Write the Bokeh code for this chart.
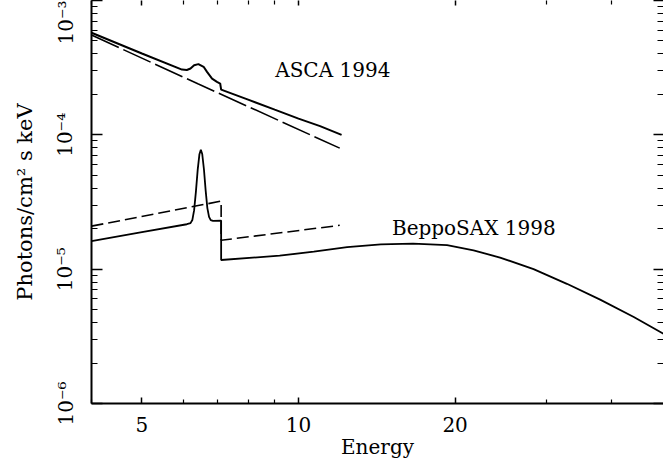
from bokeh.plotting import figure
from bokeh.models import Range1d, LogAxis, FixedTicker, CustomJSTickFormatter
from bokeh.core.properties import value
from bokeh.embed import file_html
from bokeh.resources import INLINE

# ---- data (Energy in keV, flux in Photons/cm^2 s keV) ----
asca_e = [4.0, 5.0, 5.97, 6.1, 6.2, 6.3, 6.42, 6.57, 6.67, 6.82, 6.97, 7.07, 7.1,
          8.0, 9.0, 10.0, 11.0, 12.1]
asca_f = [5.75e-4, 4.03e-4, 3.06e-4, 3.04e-4, 3.12e-4, 3.30e-4, 3.36e-4, 3.21e-4,
          2.94e-4, 2.62e-4, 2.48e-4, 2.41e-4, 2.17e-4, 1.83e-4, 1.54e-4, 1.32e-4,
          1.16e-4, 1.00e-4]

asca_cont_e = [4.0, 6.42, 12.0]
asca_cont_f = [5.53e-4, 2.39e-4, 7.96e-5]

sax_e = [4.0, 5.0, 6.1, 6.2, 6.25, 6.3, 6.35, 6.4, 6.45, 6.49, 6.53, 6.58, 6.63,
         6.68, 6.73, 6.78, 6.85, 7.1, 7.1, 9.2, 10.7, 12.4, 14.4, 16.6, 19.3, 21.7,
         24.4, 28.3, 32.8, 38.0, 44.1, 50.3]
sax_f = [1.62e-5, 1.89e-5, 2.16e-5, 2.20e-5, 2.32e-5, 2.75e-5, 3.78e-5, 5.48e-5,
         7.18e-5, 7.74e-5, 7.20e-5, 5.52e-5, 3.84e-5, 2.85e-5, 2.45e-5, 2.32e-5,
         2.29e-5, 2.30e-5, 1.17e-5, 1.26e-5, 1.35e-5, 1.46e-5, 1.53e-5, 1.55e-5,
         1.51e-5, 1.38e-5, 1.22e-5, 1.00e-5, 7.78e-6, 5.93e-6, 4.40e-6, 3.30e-6]

sax_cont_e = [4.0, 7.1, 7.1, 12.0]
sax_cont_f = [2.09e-5, 3.21e-5, 1.64e-5, 2.12e-5]

x_major = [5, 10, 20]
x_minor = [4, 6, 7, 8, 9, 30, 40]
y_major = [1e-6, 1e-5, 1e-4, 1e-3]
y_minor = [2e-6, 3e-6, 4e-6, 5e-6, 6e-6, 7e-6, 8e-6, 9e-6,
           2e-5, 3e-5, 4e-5, 5e-5, 6e-5, 7e-5, 8e-5, 9e-5,
           2e-4, 3e-4, 4e-4, 5e-4, 6e-4, 7e-4, 8e-4, 9e-4]

FONT = "DejaVu Serif"

p = figure(width=663, height=462, x_axis_type="log", y_axis_type="log",
           x_range=Range1d(4.0, 50.3), y_range=Range1d(1e-6, 1e-3),
           output_backend="svg", toolbar_location=None,
           min_border_left=91, min_border_right=0, min_border_top=0,
           min_border_bottom=59)
p.outline_line_color = None
p.grid.visible = False
p.background_fill_color = "white"
p.border_fill_color = "white"

# curves
p.line(asca_e, asca_f, line_color="black", line_width=2)
p.line(asca_cont_e, asca_cont_f, line_color="black", line_width=1.6, line_dash="30 5")
p.line(sax_e, sax_f, line_color="black", line_width=1.8)
p.line(sax_cont_e, sax_cont_f, line_color="black", line_width=1.6, line_dash="12 5")

# labels on the curves
p.text(x=[9.02], y=[3.05e-4], text=["ASCA 1994"], text_font=value(FONT),
       text_font_size="20px", text_color="black", text_align="left",
       text_baseline="alphabetic")
p.text(x=[15.12], y=[2.02e-5], text=["BeppoSAX 1998"], text_font=value(FONT),
       text_font_size="20px", text_color="black", text_align="left",
       text_baseline="alphabetic")

sup_fmt = CustomJSTickFormatter(code="""
const e = Math.round(Math.log10(tick));
const sup = {"-":"\u207b","0":"\u2070","1":"\u00b9","2":"\u00b2","3":"\u00b3","4":"\u2074",
             "5":"\u2075","6":"\u2076","7":"\u2077","8":"\u2078","9":"\u2079"};
return "10" + String(e).split("").map(c => sup[c]).join("");
""")

# bottom axis
xa = p.xaxis[0]
xa.ticker = FixedTicker(ticks=x_major, minor_ticks=x_minor)
xa.formatter = CustomJSTickFormatter(code="return Math.round(tick).toString();")
xa.axis_label = "Energy"
xa.axis_label_text_font = FONT
xa.axis_label_text_font_style = "normal"
xa.axis_label_text_font_size = "20px"
xa.axis_label_text_color = "black"
xa.axis_label_standoff = 0
xa.major_label_text_font = FONT
xa.major_label_text_font_size = "20px"
xa.major_label_text_color = "black"
xa.major_label_standoff = 13
xa.major_tick_out = 0
xa.major_tick_in = 6
xa.minor_tick_out = 0
xa.minor_tick_in = 4
xa.axis_line_width = 2
xa.axis_line_color = "black"
xa.major_tick_line_width = 1.5
xa.minor_tick_line_width = 1.2

# left axis
ya = p.yaxis[0]
ya.ticker = FixedTicker(ticks=y_major, minor_ticks=y_minor)
ya.formatter = sup_fmt
ya.axis_label = "Photons/cm\u00b2 s keV"
ya.axis_label_text_font = FONT
ya.axis_label_text_font_style = "normal"
ya.axis_label_text_font_size = "21px"
ya.axis_label_text_color = "black"
ya.axis_label_standoff = 14
ya.major_label_text_font = FONT
ya.major_label_text_font_size = "20px"
ya.major_label_text_color = "black"
ya.major_label_orientation = "vertical"
ya.major_label_standoff = 14
ya.major_tick_out = 0
ya.major_tick_in = 11
ya.minor_tick_out = 0
ya.minor_tick_in = 6
ya.axis_line_width = 2
ya.axis_line_color = "black"
ya.major_tick_line_width = 1.5
ya.minor_tick_line_width = 1.2

# right axis: inward ticks only
ra = LogAxis(ticker=FixedTicker(ticks=y_major, minor_ticks=y_minor),
             formatter=CustomJSTickFormatter(code="return '';"))
ra.axis_line_color = None
ra.major_label_text_font_size = "0px"
ra.major_label_standoff = 0
ra.axis_label_standoff = 0
ra.major_tick_out = 0
ra.major_tick_in = 10
ra.minor_tick_out = 0
ra.minor_tick_in = 6
ra.major_tick_line_width = 1.5
ra.minor_tick_line_width = 1.2
p.add_layout(ra, "right")

# top axis: inward ticks only
ta = LogAxis(ticker=FixedTicker(ticks=x_major, minor_ticks=x_minor),
             formatter=CustomJSTickFormatter(code="return '';"))
ta.axis_line_color = None
ta.major_label_text_font_size = "0px"
ta.major_label_standoff = 0
ta.axis_label_standoff = 0
ta.major_tick_out = 0
ta.major_tick_in = 5
ta.minor_tick_out = 0
ta.minor_tick_in = 4
ta.major_tick_line_width = 1.5
ta.minor_tick_line_width = 1.2
p.add_layout(ta, "above")

open("out.html", "w").write(file_html(p, INLINE))
